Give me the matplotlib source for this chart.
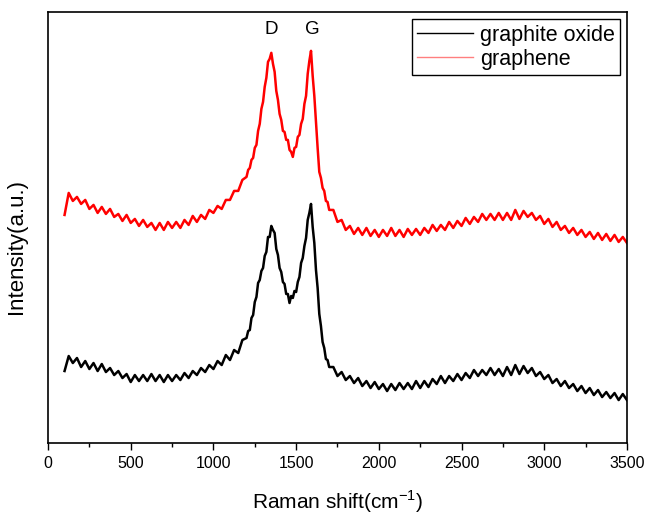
import numpy as np
import matplotlib
matplotlib.use("Agg")
import matplotlib.pyplot as plt
from matplotlib.lines import Line2D
from matplotlib.ticker import MultipleLocator

plt.rcParams['font.family'] = ['Liberation Sans', 'DejaVu Sans']

# Raman shift sampling (cm-1): coarse on the wings, fine around the D/G bands
shift = np.concatenate([
    np.arange(100, 1200, 25),
    np.arange(1200, 1700, 10),
    np.arange(1700, 3501, 25),
])

# intensities (arbitrary units)
graphene = [
    228, 250, 242, 246, 239, 243, 234, 238, 230, 236, 229, 234, 226, 229, 222, 228,
    220, 224, 217, 223, 216, 220, 213, 220, 213, 221, 215, 221, 215, 223, 218, 227,
    221, 228, 224, 233, 230, 237, 234, 243, 243, 252, 252, 263,
    266, 273, 275, 283, 285, 295, 298, 312, 319, 334, 341, 356, 365, 381, 384, 390,
    379, 371, 352, 343, 329, 323, 312, 311, 303, 303, 293, 291, 286, 295, 296, 306,
    308, 319, 324, 339, 347, 369, 382, 392, 367, 347, 321, 295, 271, 265, 255, 252,
    242, 241,
    233, 233, 221, 223, 213, 217, 209, 215, 208, 215, 207, 213, 206, 213, 207, 215,
    207, 213, 206, 214, 208, 214, 208, 215, 210, 218, 212, 218, 213, 221, 215, 222,
    217, 225, 219, 226, 221, 229, 223, 229, 223, 230, 223, 230, 223, 233, 224, 232,
    226, 230, 223, 227, 219, 224, 216, 221, 213, 217, 210, 215, 208, 213, 206, 211,
    204, 210, 203, 209, 202, 208, 201, 206, 200,
]

graphite_oxide = [
    72, 87, 80, 85, 76, 82, 74, 80, 72, 79, 71, 75, 68, 72, 65, 69,
    61, 68, 62, 68, 62, 69, 62, 68, 61, 68, 62, 68, 63, 70, 65, 72,
    68, 75, 71, 78, 74, 82, 78, 88, 83, 93, 90, 103,
    105, 112, 113, 125, 128, 141, 146, 160, 163, 172, 175, 187, 191, 206, 206, 217,
    213, 210, 194, 188, 175, 171, 161, 159, 149, 149, 140, 147, 145, 152, 151, 161,
    166, 180, 185, 197, 205, 223, 230, 239, 216, 200, 173, 155, 129, 117, 101, 95,
    84, 83,
    76, 76, 67, 71, 63, 67, 60, 65, 57, 62, 55, 61, 54, 59, 52, 59,
    53, 60, 54, 60, 54, 62, 55, 62, 56, 64, 59, 67, 60, 67, 62, 69,
    63, 70, 65, 73, 67, 73, 68, 75, 68, 74, 67, 76, 68, 78, 69, 77,
    70, 75, 67, 71, 64, 68, 60, 64, 57, 62, 55, 59, 52, 57, 50, 55,
    48, 53, 46, 51, 45, 50, 43, 49, 43,
]

peak_labels = ["D", "G"]
peak_pos = [1348, 1596]

fig = plt.figure(figsize=(6.49, 5.14), dpi=100)
ax = fig.add_axes([0.074, 0.138, 0.892, 0.839])

ax.plot(shift, graphite_oxide, color="black", lw=1.8)
ax.plot(shift, graphene, color="#ff0000", lw=1.8)

ax.set_xlim(0, 3500)
ax.set_ylim(0, 431)
ax.xaxis.set_major_locator(MultipleLocator(500))
ax.xaxis.set_minor_locator(MultipleLocator(250))
ax.tick_params(axis="x", which="major", direction="out", length=5, width=1,
               labelsize=11.5, pad=4)
ax.tick_params(axis="x", which="minor", direction="out", length=3, width=1)
ax.set_yticks([])
for s in ax.spines.values():
    s.set_linewidth(1.2)

ax.set_xlabel("Raman shift(cm$^{\\mathregular{-1}}$)", fontsize=15, labelpad=13)
ax.set_ylabel("Intensity(a.u.)", fontsize=16)
ax.yaxis.set_label_coords(-0.036, 0.455)

for lab, pos in zip(peak_labels, peak_pos):
    ax.text(pos, 413, lab, ha="center", va="center", fontsize=13.5)

handles = [Line2D([], [], color="black", lw=1),
           Line2D([], [], color="#ff0000", lw=1, alpha=0.5)]
leg = ax.legend(handles, ["graphite oxide", "graphene"], loc="upper right",
                bbox_to_anchor=(0.988, 0.983), fontsize=15.5, fancybox=False,
                framealpha=1, edgecolor="black", borderpad=0.25, labelspacing=0.15,
                handlelength=2.6, handletextpad=0.3, borderaxespad=0)
leg.get_frame().set_linewidth(1)

fig.savefig("out.png", dpi=100)
